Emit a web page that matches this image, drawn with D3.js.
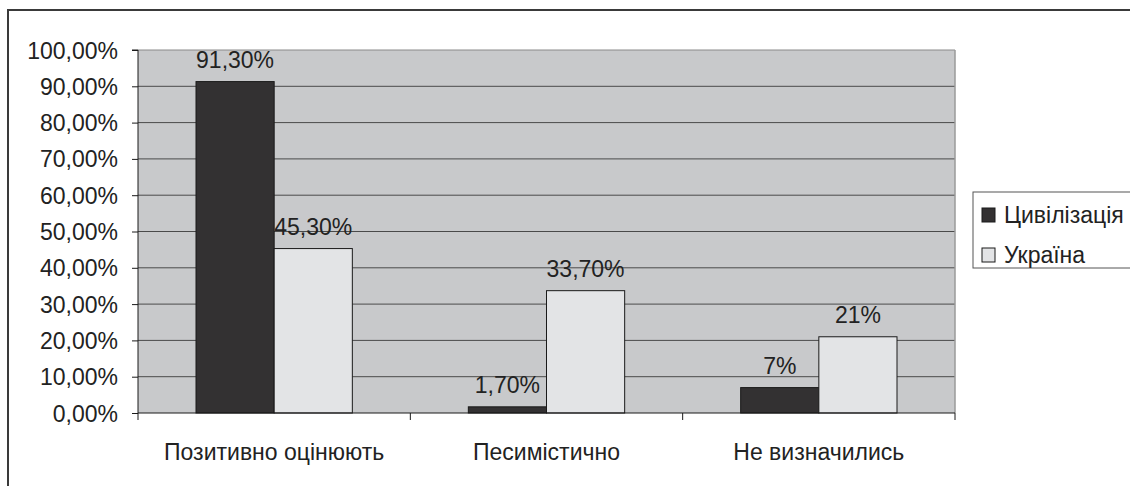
<!DOCTYPE html>
<html><head><meta charset="utf-8">
<script src="https://cdn.jsdelivr.net/npm/d3@7"></script>
<style>
html,body{margin:0;padding:0;background:#fff;}
svg{display:block;font-family:"Liberation Sans",Arial,sans-serif;}
</style></head>
<body>
<svg id="c" width="1130" height="486"></svg>
<script>
const categories = ["Позитивно оцінюють", "Песимістично", "Не визначились"];
const seriesNames = ["Цивілізація", "Україна"];
const civilization = [91.3, 1.7, 7];
const ukraine = [45.3, 33.7, 21];
const civilizationLabels = ["91,30%", "1,70%", "7%"];
const ukraineLabels = ["45,30%", "33,70%", "21%"];
const yTicks = [0, 10, 20, 30, 40, 50, 60, 70, 80, 90, 100];
const yTickLabels = ["0,00%", "10,00%", "20,00%", "30,00%", "40,00%", "50,00%", "60,00%", "70,00%", "80,00%", "90,00%", "100,00%"];
const colors = ["#333132", "#e3e4e6"];

const svg = d3.select("#c");
const L = 138, R = 955, T = 50, B = 413;
const FS = 23;

// outer frame
svg.append("rect").attr("x", 8).attr("y", 10).attr("width", 1200).attr("height", 600)
  .attr("fill", "none").attr("stroke", "#3a3a3a").attr("stroke-width", 2);

const x0 = d3.scaleBand().domain(categories).range([L, R]).paddingInner(0).paddingOuter(0);
const groupPad = 58;
const x1 = d3.scaleBand().domain(seriesNames).range([groupPad, x0.bandwidth() - groupPad]);
const y = d3.scaleLinear().domain([0, 100]).range([B, T]);

// plot background
svg.append("rect").attr("x", L).attr("y", T).attr("width", R - L).attr("height", B - T).attr("fill", "#c8c9cb");

// gridlines
svg.append("g").selectAll("line").data(yTicks.filter(d => d > 0)).join("line")
  .attr("x1", L).attr("x2", R).attr("y1", d => y(d)).attr("y2", d => y(d))
  .attr("stroke", d => d === 100 ? "#8a8a8a" : "#4a4a4a").attr("stroke-width", 1);
// right border
svg.append("line").attr("x1", R).attr("x2", R).attr("y1", T).attr("y2", B).attr("stroke", "#9a9a9a").attr("stroke-width", 1.5);

// bars
const seriesData = [civilization, ukraine];
const seriesLabels = [civilizationLabels, ukraineLabels];
seriesNames.forEach((s, si) => {
  const g = svg.append("g");
  g.selectAll("rect").data(categories).join("rect")
    .attr("x", c => x0(c) + x1(s))
    .attr("y", (c, i) => y(seriesData[si][i]))
    .attr("width", x1.bandwidth())
    .attr("height", (c, i) => B - y(seriesData[si][i]))
    .attr("fill", colors[si]).attr("stroke", "#1a1a1a").attr("stroke-width", 1);
  g.selectAll("text").data(categories).join("text")
    .attr("x", c => x0(c) + x1(s) + x1.bandwidth() / 2)
    .attr("y", (c, i) => y(seriesData[si][i]) - 14)
    .attr("text-anchor", "middle").attr("font-size", FS).attr("fill", "#222")
    .text((c, i) => seriesLabels[si][i]);
});

// y axis
const yAxis = d3.axisLeft(y).tickValues(yTicks).tickSize(6).tickPadding(14)
  .tickFormat((d, i) => yTickLabels[i]);
const ya = svg.append("g").attr("transform", `translate(${L},0)`).call(yAxis);
ya.select(".domain").attr("stroke", "#1a1a1a").attr("d", `M-6,${T}H0V${B}`);
ya.selectAll(".tick line").attr("stroke", "#1a1a1a");
ya.selectAll(".tick text").attr("font-size", FS).attr("fill", "#222").attr("font-family", "Liberation Sans, Arial, sans-serif").attr("dy", "0.35em");

// x axis
const xa = svg.append("g").attr("transform", `translate(0,${B})`);
xa.append("line").attr("x1", L).attr("x2", R).attr("y1", 0).attr("y2", 0).attr("stroke", "#1a1a1a");
const tickPos = categories.map(c => x0(c)).concat([R]);
xa.selectAll("line.t").data(tickPos).join("line").attr("class", "t")
  .attr("x1", d => d).attr("x2", d => d).attr("y1", 0).attr("y2", 7).attr("stroke", "#1a1a1a");
xa.selectAll("text").data(categories).join("text")
  .attr("x", c => x0(c) + x0.bandwidth() / 2).attr("y", 47)
  .attr("text-anchor", "middle").attr("font-size", FS).attr("fill", "#222").text(c => c);

// legend
const lg = svg.append("g");
lg.append("rect").attr("x", 973).attr("y", 192).attr("width", 200).attr("height", 76)
  .attr("fill", "#fff").attr("stroke", "#555").attr("stroke-width", 1);
seriesNames.forEach((s, i) => {
  const cy = 215 + i * 40;
  lg.append("rect").attr("x", 982).attr("y", cy - 7).attr("width", 13).attr("height", 14)
    .attr("fill", colors[i]).attr("stroke", "#1a1a1a").attr("stroke-width", 1);
  lg.append("text").attr("x", 1004).attr("y", cy).attr("dy", "0.35em")
    .attr("font-size", FS).attr("fill", "#222").text(s);
});
</script>
</body></html>
